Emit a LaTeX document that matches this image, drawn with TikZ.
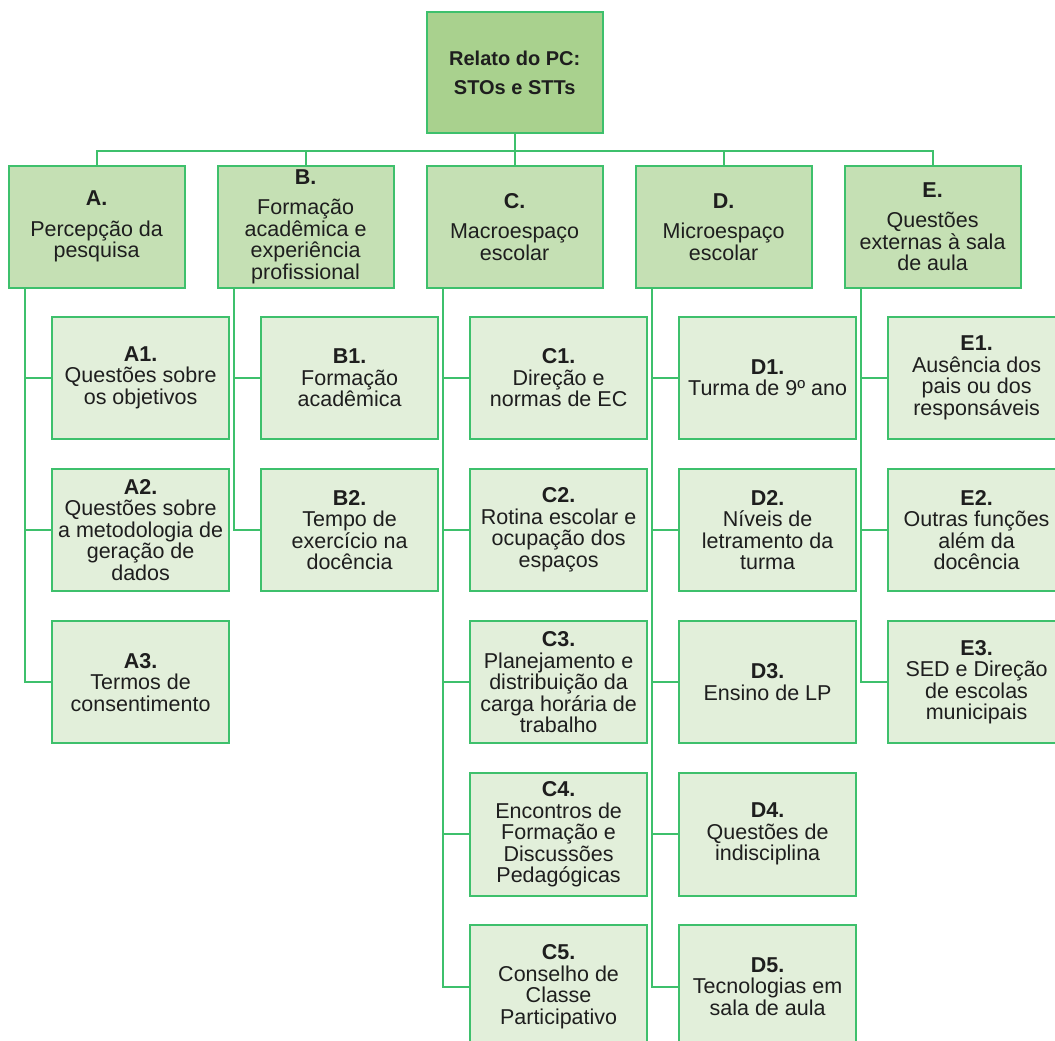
\documentclass[tikz,border=0pt]{standalone}
\usepackage{fontspec}
\setmainfont{Liberation Sans}
\usetikzlibrary{calc}
\definecolor{ln}{RGB}{62,192,108}
\definecolor{rootf}{HTML}{A9D18E}
\definecolor{lonef}{HTML}{C5E0B4}
\definecolor{ltwof}{HTML}{E2EFDA}
\definecolor{txt}{HTML}{1E1E1E}
\begin{document}
\begin{tikzpicture}[x=1pt,y=-1pt,
  box/.style={draw=ln,line width=2pt,rectangle,minimum width=176pt,minimum height=122.5pt,
    inner sep=1pt,align=center,text=txt,font={\fontsize{21.5}{21.5}\selectfont}},
  rootbox/.style={box,fill=rootf,minimum height=121.7pt,font={\bfseries\fontsize{20}{29}\selectfont}},
  lone/.style={box,fill=lonef},
  ltwo/.style={box,fill=ltwof,minimum width=177pt},
  conn/.style={draw=ln,line width=2pt}]
\useasboundingbox (0,0) rectangle (1055,1041);
\clip (0,0) rectangle (1055,1041);

% root
\node[rootbox] (root) at (514.7,72.5) {Relato do PC:\\STOs e STTs};

% level 1
\node[lone] (A) at (96.6,226.8) {\textbf{A.}\\[9pt]Percepção da\\pesquisa};
\node[lone] (B) at (305.6,226.8) {\textbf{B.}\\[9pt]Formação\\acadêmica e\\experiência\\profissional};
\node[lone] (C) at (514.6,226.8) {\textbf{C.}\\[9pt]Macroespaço\\escolar};
\node[lone] (D) at (723.6,226.8) {\textbf{D.}\\[9pt]Microespaço\\escolar};
\node[lone] (E) at (932.6,226.8) {\textbf{E.}\\[9pt]Questões\\externas à sala\\de aula};

% level 2
\node[ltwo] (A1) at (140.6,377.8) {\textbf{A1.}\\Questões sobre\\os objetivos};
\node[ltwo] (A2) at (140.6,530.0) {\textbf{A2.}\\Questões sobre\\a metodologia de\\geração de\\dados};
\node[ltwo] (A3) at (140.6,682.2) {\textbf{A3.}\\Termos de\\consentimento};

\node[ltwo] (B1) at (349.6,377.8) {\textbf{B1.}\\Formação\\acadêmica};
\node[ltwo] (B2) at (349.6,530.0) {\textbf{B2.}\\Tempo de\\exercício na\\docência};

\node[ltwo] (C1) at (558.6,377.8) {\textbf{C1.}\\Direção e\\normas de EC};
\node[ltwo] (C2) at (558.6,530.0) {\textbf{C2.}\\Rotina escolar e\\ocupação dos\\espaços};
\node[ltwo] (C3) at (558.6,682.2) {\textbf{C3.}\\Planejamento e\\distribuição da\\carga horária de\\trabalho};
\node[ltwo] (C4) at (558.6,834.3) {\textbf{C4.}\\Encontros de\\Formação e\\Discussões\\Pedagógicas};
\node[ltwo] (C5) at (558.6,986.5) {\textbf{C5.}\\Conselho de\\Classe\\Participativo};

\node[ltwo] (D1) at (767.6,377.8) {\textbf{D1.}\\Turma de 9º ano};
\node[ltwo] (D2) at (767.6,530.0) {\textbf{D2.}\\Níveis de\\letramento da\\turma};
\node[ltwo] (D3) at (767.6,682.2) {\textbf{D3.}\\Ensino de LP};
\node[ltwo] (D4) at (767.6,834.3) {\textbf{D4.}\\Questões de\\indisciplina};
\node[ltwo] (D5) at (767.6,986.5) {\textbf{D5.}\\Tecnologias em\\sala de aula};

\node[ltwo] (E1) at (976.6,377.8) {\textbf{E1.}\\Ausência dos\\pais ou dos\\responsáveis};
\node[ltwo] (E2) at (976.6,530.0) {\textbf{E2.}\\Outras funções\\além da\\docência};
\node[ltwo] (E3) at (976.6,682.2) {\textbf{E3.}\\SED e Direção\\de escolas\\municipais};

% bus from root
\coordinate (bus) at (514.7,150.7);
\draw[conn] (root.south) -- (bus);
\foreach \n in {A,B,C,D,E}
  \draw[conn] (\n.north) |- (bus);

% trunks
\foreach \n/\kids in {A/{1,2,3},B/{1,2},C/{1,2,3,4,5},D/{1,2,3,4,5},E/{1,2,3}}{
  \coordinate (\n t) at ($(\n.south west)+(17,0)$);
  \foreach \k in \kids
    \draw[conn] (\n t) |- (\n\k.west);
}
\end{tikzpicture}
\end{document}
